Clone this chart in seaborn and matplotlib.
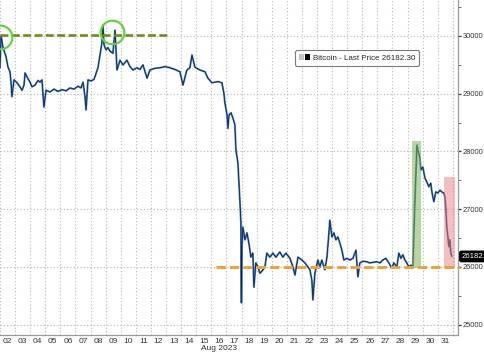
import numpy as np
import pandas as pd
import matplotlib
matplotlib.use("Agg")
import matplotlib.pyplot as plt
import matplotlib.dates as mdates
import matplotlib.transforms as mtransforms
from matplotlib.patches import Patch
from matplotlib.legend_handler import HandlerTuple
from matplotlib.ticker import MultipleLocator
import seaborn as sns

# ---------------- data ----------------
# time expressed as fractional day of August 2023 (2.0 = Aug 2 00:00)
day_of_aug = [
    2.00, 2.07, 2.20, 2.40, 2.53, 2.66, 2.73, 2.79, 2.86, 2.93,
    3.13, 3.32, 3.46, 3.59, 3.66, 3.79, 3.99, 4.12, 4.32, 4.52,
    4.65, 4.78, 4.91, 5.05, 5.31, 5.58, 5.84, 6.11, 6.37, 6.64,
    6.90, 7.17, 7.36, 7.50, 7.63, 7.70, 7.83, 8.03, 8.23, 8.36,
    8.49, 8.62, 8.75, 8.82, 8.89, 9.02, 9.15, 9.28, 9.48, 9.62,
    9.75, 9.95, 10.15, 10.41, 10.61, 10.81, 11.07, 11.27, 11.47, 11.74,
    11.93, 12.26, 12.60, 12.93, 13.26, 13.59, 13.92, 14.12, 14.38, 14.58,
    14.72, 14.91, 15.25, 15.58, 15.77, 16.04, 16.44, 16.70, 16.83, 16.90,
    17.03, 17.10, 17.17, 17.30, 17.43, 17.56, 17.63, 17.70, 17.76, 17.83,
    17.89, 17.96, 17.99, 18.03, 18.09, 18.23, 18.36, 18.49, 18.62, 18.75,
    18.82, 18.95, 19.09, 19.22, 19.42, 19.55, 19.68, 19.88, 20.08, 20.28,
    20.54, 20.74, 20.94, 21.21, 21.40, 21.54, 21.74, 22.00, 22.20, 22.40,
    22.53, 22.66, 22.73, 22.86, 23.06, 23.19, 23.32, 23.52, 23.66, 23.79,
    23.85, 23.99, 24.12, 24.25, 24.38, 24.52, 24.65, 24.78, 24.98, 25.18,
    25.38, 25.58, 25.71, 25.84, 26.04, 26.30, 26.50, 26.70, 26.97, 27.17,
    27.36, 27.56, 27.76, 27.96, 28.09, 28.29, 28.42, 28.56, 28.69, 28.82,
    28.95, 29.09, 29.22, 29.35, 29.48, 29.55, 29.62, 29.68, 29.81, 29.88,
    30.01, 30.15, 30.28, 30.41, 30.54, 30.61, 30.74, 30.87, 31.01, 31.14,
    31.27, 31.40, 31.47, 31.54, 31.60, 31.74, 31.80, 31.87, 31.93,
]
price = [
    29450, 30000, 29800, 29640, 29460, 29380, 29200, 28950, 29100, 29240,
    29190, 29120, 29060, 29150, 29360, 29290, 29200, 29120, 29150, 29230,
    29200, 29240, 28770, 29060, 29030, 29080, 29040, 29070, 29050, 29100,
    29080, 29130, 29100, 29200, 28950, 28720, 29240, 29220, 29250, 29350,
    29450, 29670, 29880, 30190, 29850, 29760, 29800, 29740, 29700, 30100,
    29410, 29580, 29500, 29580, 29470, 29410, 29450, 29420, 29500, 29270,
    29410, 29440, 29450, 29470, 29450, 29420, 29380, 29150, 29410, 29450,
    29670, 29460, 29410, 29380, 29270, 29190, 29210, 29190, 29010, 28840,
    28650, 28400, 28630, 28670, 28580, 28460, 28030, 27900, 27800, 27450,
    27160, 26760, 25380, 26350, 26690, 26470, 26590, 26410, 26170, 26240,
    25650, 26070, 26000, 25890, 25950, 26000, 26240, 26170, 26240, 26170,
    26260, 26170, 26240, 26150, 26000, 25860, 26170, 26120, 26070, 26000,
    25950, 25770, 25430, 25890, 26120, 26000, 26120, 25950, 26170, 26590,
    26810, 26520, 26590, 26470, 26520, 26410, 26290, 26120, 26150, 26120,
    26150, 26290, 25830, 26070, 26100, 26090, 26070, 26080, 26090, 26070,
    26120, 26150, 26070, 25980, 26070, 26000, 26240, 26150, 26210, 26120,
    26070, 26000, 26030, 26000, 27100, 27600, 28110, 28030, 27900, 27680,
    27730, 27540, 27470, 27390, 27450, 27300, 27130, 27300, 27280, 27330,
    27300, 27280, 27210, 26990, 26690, 26350, 26470, 26240, 26182.3,
]
last_price = 26182.30
last_price_tag = "26182."          # tag is truncated at the figure edge in the original
series_name = "Bitcoin - Last Price"
y_ticks = [25000, 26000, 27000, 28000, 29000, 30000]

resistance_level = 30010          # green dashed line
resistance_span = (2.0, 13.13)
support_level = 26000             # orange dashed line
support_span = (16.30, 32.46)
circle_days = [2.0, 9.42]
circle_prices = [29983, 30070]
green_box_days = (29.28, 29.88)
green_box_prices = (25980, 28180)
red_box_days = (31.40, 32.13)
red_box_prices = (25980, 27560)
x_range_days = (2.0, 32.33)
y_range = (24822, 30623)

# ---------------- helpers ----------------
base = pd.Timestamp("2023-08-01")


def to_time(d):
    return base + pd.to_timedelta(np.asarray(d, dtype=float) - 1.0, unit="D")


df = pd.DataFrame({"time": to_time(day_of_aug), "price": price})

sns.set_theme(style="white")
plt.rcParams["font.family"] = ["Liberation Sans", "DejaVu Sans"]

fig = plt.figure(figsize=(4.85, 3.53), dpi=100)
ax = fig.add_axes([0.0, 0.051, 0.944, 0.949])

# price line: light blue halo + dark core
sns.lineplot(data=df, x="time", y="price", ax=ax, color="#4a86c5",
             linewidth=1.4, zorder=3, legend=False)
sns.lineplot(data=df, x="time", y="price", ax=ax, color="#0e1c3c",
             linewidth=0.55, zorder=4, legend=False)

# highlight boxes
gx = to_time(list(green_box_days))
ax.fill_between(gx, [green_box_prices[0]] * 2, [green_box_prices[1]] * 2,
                color="#7fb35a", alpha=0.55, lw=0, zorder=5)
rx = to_time(list(red_box_days))
ax.fill_between(rx, [red_box_prices[0]] * 2, [red_box_prices[1]] * 2,
                color="#ee8080", alpha=0.5, lw=0, zorder=5)

# dashed reference lines
ax.plot(to_time(list(resistance_span)), [resistance_level] * 2,
        color="#6b8e1e", lw=1.9, dashes=(3.0, 1.3), zorder=6)
ax.plot(to_time(list(support_span)), [support_level] * 2,
        color="#f0a035", lw=2.1, dashes=(3.2, 1.4), zorder=6, clip_on=False)

# green circles
ax.plot(to_time(circle_days), circle_prices, ls="none", marker="o", ms=17,
        mfc="none", mec="#66d040", mew=1.6, zorder=7)

# axes limits
ax.set_xlim(to_time(x_range_days[0]), to_time(x_range_days[1]))
ax.set_ylim(*y_range)

# x axis: gridlines at midnight, labels at noon
ax.xaxis.set_major_locator(mdates.DayLocator())
ax.xaxis.set_major_formatter(plt.NullFormatter())
ax.xaxis.set_minor_locator(mdates.HourLocator(byhour=12))
ax.xaxis.set_minor_formatter(mdates.DateFormatter("%d"))
ax.tick_params(axis="x", which="both", length=0, pad=2.0,
               labelsize=6.0, labelcolor="#333333")

# y axis on the right
ax.yaxis.tick_right()
ax.set_yticks(y_ticks)
ax.yaxis.set_minor_locator(MultipleLocator(500))
ax.yaxis.set_major_formatter(plt.FuncFormatter(lambda v, p: f"{int(v)}"))
ax.tick_params(axis="y", which="major", direction="out", length=2.5,
               width=0.9, color="#333333", pad=1.2, labelsize=5.4,
               labelcolor="#333333")
ax.tick_params(axis="y", which="minor", direction="out", length=2,
               width=0.6, color="#555555")

ax.set_xlabel("")
ax.set_ylabel("")

ax.grid(True, which="major", axis="both", ls=(0, (1, 2)),
        color="#b5b5b5", lw=0.8)
ax.set_axisbelow(True)

for s in ["left", "top"]:
    ax.spines[s].set_visible(False)
for s in ["right", "bottom"]:
    ax.spines[s].set_visible(True)
    ax.spines[s].set_color("#999999")
    ax.spines[s].set_linewidth(0.9)

# "Aug 2023" label
trans = mtransforms.blended_transform_factory(ax.transData, fig.transFigure)
ax.text(to_time(16.5), 0.014, "Aug 2023", transform=trans, ha="center",
        va="center", fontsize=6.0, color="#333333")

# last price tag
ax.text(1.008, last_price, last_price_tag,
        transform=mtransforms.blended_transform_factory(ax.transAxes, ax.transData),
        ha="left", va="center", fontsize=5.6, color="white", clip_on=False,
        bbox=dict(boxstyle="round,pad=0.22", fc="black", ec="black"))

# legend
handles = [(Patch(fc="#c4c4c4", ec="none"), Patch(fc="black", ec="none"))]
leg = ax.legend(handles, [f"{series_name} {last_price:.2f}"],
                handler_map={tuple: HandlerTuple(ndivide=None, pad=0.2)},
                loc="center", bbox_to_anchor=(0.78, 0.827), fontsize=5.8,
                handlelength=1.3, handleheight=0.8, handletextpad=0.4,
                borderpad=0.45, fancybox=True, framealpha=1)
leg.get_frame().set_edgecolor("#7a7a7a")
leg.get_frame().set_linewidth(0.8)

fig.savefig("out.png", dpi=100)
